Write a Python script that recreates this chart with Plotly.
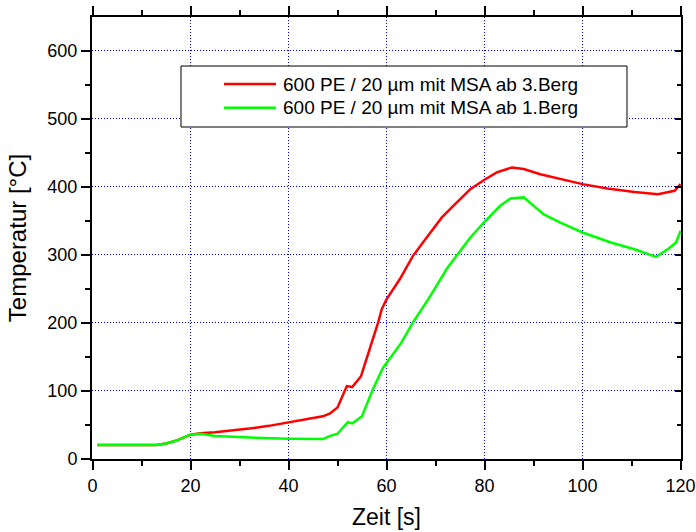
import plotly.graph_objects as go

# Time [s] and temperature [°C]
t_red = [1, 5, 10, 13, 15, 17, 20, 22, 25, 28.5, 32, 36, 40, 44, 47, 48.4, 50, 51.9, 53, 54.8,
         56.6, 58.3, 59, 60, 62.7, 65.4, 68.2, 71.3, 74, 77.1, 80, 82.5, 85.6, 88, 91.4, 95.5,
         100, 105.1, 110.6, 115.4, 118.8, 120]
T_red = [20, 20, 20, 20, 22, 26, 35, 37, 38.5, 41, 44, 48, 53, 58, 62, 66, 75, 106.5, 105, 121,
         160.5, 200, 219, 234, 263.6, 298, 325, 354.5, 374, 396, 410, 420.7, 428, 425.6, 418, 411,
         403.5, 397, 392, 388.8, 393.7, 403.5]

t_green = [1, 5, 10, 13, 15, 17, 20, 22, 25, 29, 35, 40, 44, 47, 48.4, 50, 52.1, 53, 55, 57.2,
           59.3, 60.3, 63, 65.4, 67.2, 68.5, 70.2, 72.3, 74.3, 77.1, 80, 83.2, 85.3, 88, 92.1,
           95.5, 100, 105.8, 110.6, 115, 117.4, 119.1, 120]
T_green = [20, 20, 20, 20, 22, 26, 35, 36.5, 33, 31.5, 30, 29, 29, 28.5, 33, 36.4, 53.5, 51.5, 62.3,
           101.6, 133.6, 143, 170, 200, 219, 234, 254, 279, 298, 325, 348, 371.6, 382.5, 384, 359,
           347, 332.4, 317.7, 307.8, 296.5, 307.8, 317.7, 334.8]

names = ["600 PE / 20 µm mit MSA ab 3.Berg", "600 PE / 20 µm mit MSA ab 1.Berg"]
colors = ["#FF0000", "#00FF00"]
x_ticks = [0, 20, 40, 60, 80, 100, 120]
y_ticks = [0, 100, 200, 300, 400, 500, 600]

FONT = "Liberation Sans, Arial, sans-serif"

# plot area: 589 x 442 px; ranges padded by half a pixel so 1px grid lines render crisply
X_RANGE = [-0.10204, 120.10204]
Y_RANGE = [-0.735, 649.265]

fig = go.Figure()
fig.add_trace(go.Scatter(x=t_red, y=T_red, mode="lines", name=names[0],
                         line=dict(color=colors[0], width=2.5), showlegend=False))
fig.add_trace(go.Scatter(x=t_green, y=T_green, mode="lines", name=names[1],
                         line=dict(color=colors[1], width=2.5), showlegend=False))
# invisible trace to carry the right axis
fig.add_trace(go.Scatter(x=[None], y=[None], yaxis="y2", showlegend=False, hoverinfo="skip"))

axis_common = dict(showline=True, linecolor="black", linewidth=2, ticks="outside",
                   ticklen=9, tickwidth=2, tickcolor="black", zeroline=False, automargin=False,
                   tickfont=dict(family=FONT, size=18, color="black"))

# Legend box drawn in the axes' domain coordinates
box = dict(x0=0.1511, x1=0.9083, y0=0.7511, y1=0.8891)
line_x = (0.2241, 0.3124)
text_x = 0.3209
row_y = [0.8484, 0.7948]

shapes = [dict(type="rect", xref="x domain", yref="y domain", x0=box["x0"], x1=box["x1"],
               y0=box["y0"], y1=box["y1"], line=dict(color="black", width=1),
               fillcolor="white", layer="above")]
annotations = []
for nm, col, yy in zip(names, colors, row_y):
    shapes.append(dict(type="line", xref="x domain", yref="y domain", x0=line_x[0], x1=line_x[1],
                       y0=yy, y1=yy, line=dict(color=col, width=2.5), layer="above"))
    annotations.append(dict(text=nm, xref="x domain", yref="y domain", x=text_x, y=yy,
                            xanchor="left", yanchor="middle", showarrow=False,
                            font=dict(family=FONT, size=19, color="black")))

grid = dict(showgrid=True, gridcolor="#0000FF", griddash="1px,2px", gridwidth=1)

fig.update_layout(
    width=696, height=532,
    margin=dict(l=92, r=15, t=17, b=73),
    paper_bgcolor="white", plot_bgcolor="white",
    font=dict(family=FONT, color="black"),
    xaxis=dict(range=X_RANGE, tickvals=x_ticks, mirror="ticks",
               minor=dict(ticks="outside", ticklen=5, tickwidth=2, tickcolor="black",
                          tickvals=list(range(10, 120, 20)), showgrid=False),
               title=dict(text="Zeit [s]", font=dict(family=FONT, size=23), standoff=14),
               **grid, **axis_common),
    yaxis=dict(range=Y_RANGE, tickvals=y_ticks, mirror=True,
               minor=dict(ticks="outside", ticklen=5, tickwidth=2, tickcolor="black",
                          tickvals=list(range(50, 650, 100)), showgrid=False),
               title=dict(text="Temperatur [°C]", font=dict(family=FONT, size=24), standoff=14),
               **grid, **axis_common),
    yaxis2=dict(range=Y_RANGE, overlaying="y", side="right", showline=False, automargin=False,
                showgrid=False, zeroline=False, showticklabels=False,
                ticks="inside", ticklen=6, tickwidth=2, tickcolor="black", tickvals=y_ticks,
                minor=dict(ticks="inside", ticklen=4, tickwidth=2, tickcolor="black",
                           tickvals=list(range(50, 650, 100)))),
    shapes=shapes,
    annotations=annotations,
    showlegend=False,
)

fig.write_html("out.html")
